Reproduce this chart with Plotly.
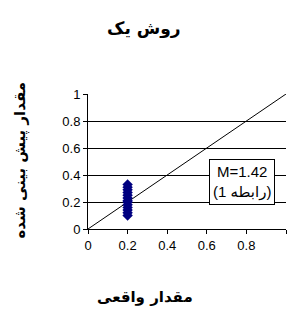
import plotly.graph_objects as go

# Data
actual_x = [0.2] * 13
predicted_y = [0.10, 0.12, 0.14, 0.16, 0.18, 0.20, 0.21, 0.23, 0.25, 0.27, 0.29, 0.31, 0.33]
line_x = [0, 1]
line_y = [0, 1]
tick_vals = [0, 0.2, 0.4, 0.6, 0.8, 1]
tick_text = ["0", "0.2", "0.4", "0.6", "0.8", "1"]

title_text = "روش یک"
x_title = "مقدار واقعی"
y_title = "مقدار پیش بینی شده"
box_text = "M=1.42<br>(1\u200e رابطه)"

fig = go.Figure()
fig.add_trace(go.Scatter(x=line_x, y=line_y, mode="lines",
                         line=dict(color="black", width=1), showlegend=False,
                         hoverinfo="skip", cliponaxis=False))
fig.add_trace(go.Scatter(x=actual_x, y=predicted_y, mode="markers",
                         marker=dict(symbol="diamond", size=8, color="#000080"),
                         showlegend=False))

fig.update_layout(
    width=287, height=309,
    margin=dict(l=88, r=1, t=94, b=80),
    plot_bgcolor="white", paper_bgcolor="white",
    font=dict(family="Liberation Sans, DejaVu Sans, sans-serif", size=13, color="black"),
    xaxis=dict(range=[0, 1], tickvals=tick_vals, ticktext=tick_text,
               showgrid=False, zeroline=False, showline=True, linecolor="black",
               linewidth=1, ticks="outside", ticklen=4, tickcolor="black",
               tickfont=dict(size=13)),
    yaxis=dict(range=[0, 1], tickvals=tick_vals, ticktext=tick_text,
               showgrid=True, gridcolor="black", gridwidth=1, zeroline=False,
               showline=True, linecolor="black", linewidth=1,
               ticks="outside", ticklen=4, tickcolor="black",
               tickfont=dict(size=13)),
    annotations=[
        dict(text="<b>" + title_text + "</b>", xref="paper", yref="paper",
             x=0.285, xanchor="center", y=1.0, yshift=66, yanchor="middle",
             showarrow=False, font=dict(size=17, family="DejaVu Sans")),
        dict(text="<b>" + x_title + "</b>", xref="paper", yref="paper",
             x=0.29, xanchor="center", y=0, yshift=-68, yanchor="middle",
             showarrow=False, font=dict(size=15, family="DejaVu Sans")),
        dict(text="<b>" + y_title + "</b>", xref="paper", yref="paper",
             x=0, xshift=-68, xanchor="center", y=0.5, yshift=1, yanchor="middle",
             textangle=-90, showarrow=False,
             font=dict(size=15, family="DejaVu Sans")),
        dict(text=box_text, xref="x", yref="y", x=0.78, y=0.35,
             showarrow=False, bordercolor="black", borderwidth=1,
             bgcolor="white", borderpad=3,
             font=dict(size=15, family="Liberation Sans, DejaVu Sans")),
    ],
)

fig.write_html("out.html", config={"displayModeBar": False},
               post_script="document.body.style.margin='0';document.body.style.overflow='hidden';")
